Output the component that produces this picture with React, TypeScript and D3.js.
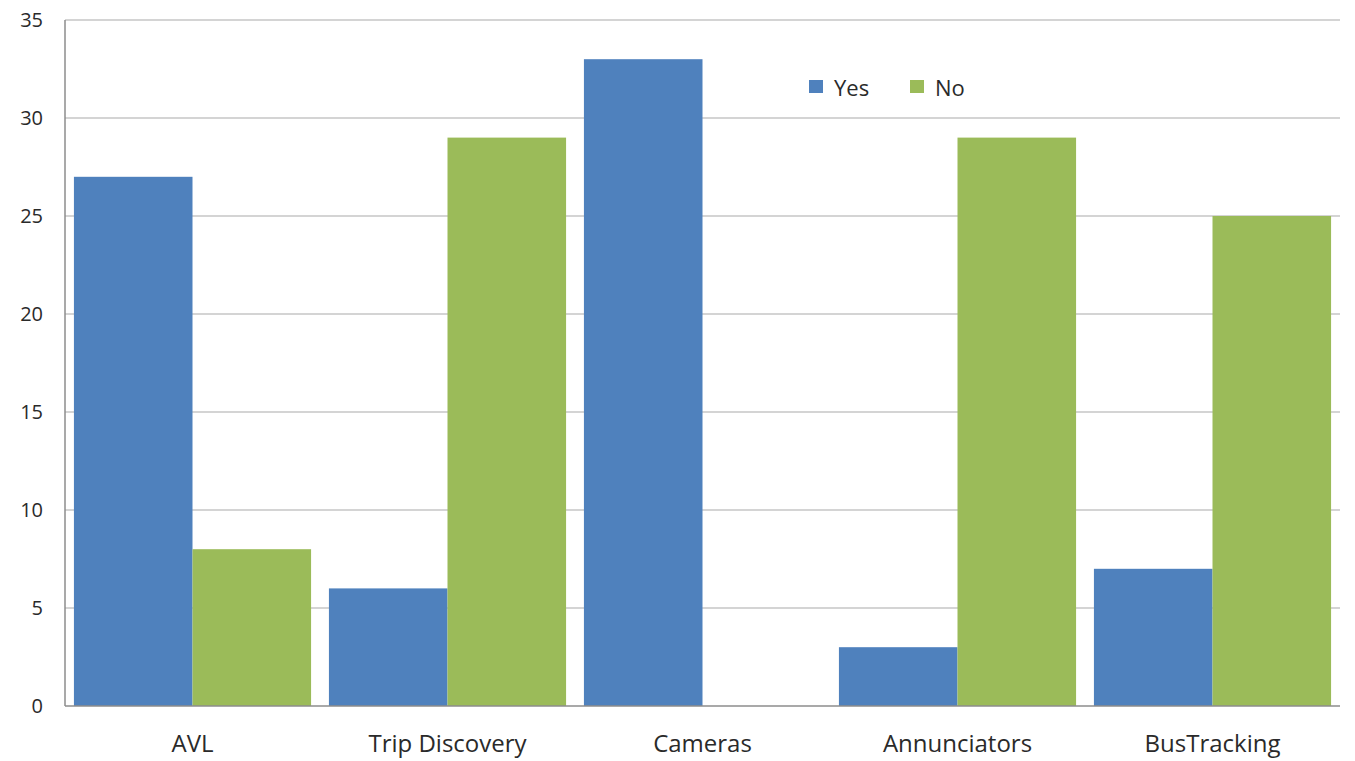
import React from "react";
import * as d3 from "d3";

const categories = ["AVL", "Trip Discovery", "Cameras", "Annunciators", "BusTracking"];
const yesValues = [27, 6, 33, 3, 7];
const noValues = [8, 29, 0, 29, 25];
const seriesNames = ["Yes", "No"];
const seriesColors = ["#4F81BD", "#9BBB59"];
const yTicks = [0, 5, 10, 15, 20, 25, 30, 35];

const W = 1355;
const H = 761;
const left = 65;
const right = 1340;
const top = 20;
const bottom = 706;
const FONT = "'Open Sans', 'Liberation Sans', sans-serif";

export default function App() {
  const x = d3.scaleBand<string>().domain(categories).range([left, right]).paddingInner(0.07).paddingOuter(0.035);
  const x1 = d3.scaleBand<string>().domain(seriesNames).range([0, x.bandwidth()]).padding(0);
  const y = d3.scaleLinear().domain([0, 35]).range([bottom, top]);
  const series = [yesValues, noValues];

  return (
    <svg width={W} height={H} style={{ position: "absolute", left: 0, top: 0, background: "#fff" }}>
      {yTicks.map((t) => (
        <g key={t}>
          {t > 0 && <line x1={left} x2={right} y1={y(t)} y2={y(t)} stroke="#c6c6c6" strokeWidth={1.5} />}
          <text x={43} y={y(t)} dy="0.36em" textAnchor="end" fontFamily={FONT} fontSize={20} fill="#2a2a2a">
            {t}
          </text>
        </g>
      ))}
      {categories.map((c, i) => (
        <g key={c}>
          {series.map((vals, s) => (
            <rect
              key={s}
              x={(x(c) as number) + (x1(seriesNames[s]) as number)}
              y={y(vals[i])}
              width={x1.bandwidth()}
              height={bottom - y(vals[i])}
              fill={seriesColors[s]}
            />
          ))}
          <text x={(x(c) as number) + x.bandwidth() / 2} y={752} textAnchor="middle" fontFamily={FONT} fontSize={24} fill="#2a2a2a">
            {c}
          </text>
        </g>
      ))}
      <line x1={left} x2={left} y1={top} y2={bottom} stroke="#8c8c8c" strokeWidth={1.5} />
      <line x1={left} x2={right} y1={bottom} y2={bottom} stroke="#8c8c8c" strokeWidth={1.5} />
      {seriesNames.map((n, s) => {
        const lx = s === 0 ? 809 : 910;
        return (
          <g key={n}>
            <rect x={lx} y={80} width={14} height={13} fill={seriesColors[s]} />
            <text x={lx + 25} y={96} fontFamily={FONT} fontSize={22} fill="#2a2a2a">
              {n}
            </text>
          </g>
        );
      })}
    </svg>
  );
}
